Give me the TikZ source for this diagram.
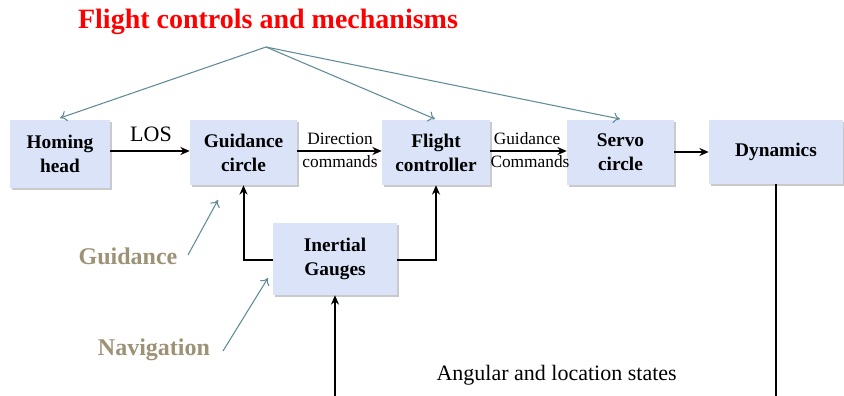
\documentclass[tikz,border=0pt]{standalone}
\usepackage{fontspec}
\setmainfont{Liberation Serif}
\usetikzlibrary{arrows.meta,shadows}
\definecolor{boxfill}{HTML}{DAE3F8}
\definecolor{ptr}{HTML}{5F8C98}
\definecolor{tan}{HTML}{9D9276}
\tikzset{
  box/.style={fill=boxfill, draw=none, align=center, font=\fontsize{14.5}{18}\selectfont\bfseries,
    drop shadow={shadow xshift=1.2pt, shadow yshift=-1.2pt, fill=black!35, opacity=0.6}},
  flow/.style={line width=1.5pt, -{Stealth[length=7pt,width=6pt]}},
  ptrarrow/.style={draw=ptr, line width=0.8pt, -{To[length=5pt,width=8pt]}},
  lbl/.style={font=\fontsize{13}{14}\selectfont, inner sep=1pt},
  side/.style={font=\fontsize{18}{20}\selectfont\bfseries, text=tan},
}
\begin{document}
\begin{tikzpicture}[x=0.75pt,y=-0.75pt]
\useasboundingbox (0,0) rectangle (844,396);
\clip (0,0) rectangle (844,396);
% title
\node[font=\fontsize{21}{24}\selectfont\bfseries, text=red] (title) at (268,22) {Flight controls and mechanisms};
\coordinate (apex) at (266,47);
% boxes
\node[box, minimum width=75pt, minimum height=51pt] (home) at (60,154) {Homing\\head};
\node[box, minimum width=80.25pt, minimum height=48.75pt] (guid) at (243.5,152.5) {Guidance\\circle};
\node[box, minimum width=81pt, minimum height=48.75pt] (flight) at (436,152.5) {Flight\\controller};
\node[box, minimum width=80.25pt, minimum height=48.75pt] (servo) at (620.5,152.5) {Servo\\circle};
\node[box, minimum width=100.5pt, minimum height=48pt] (dyn) at (776,152) {Dynamics};
\node[box, minimum width=93pt, minimum height=54pt] (inert) at (335,259) {Inertial\\Gauges};
% pointer arrows from title
\draw[ptrarrow] (apex) -- (60,118);
\draw[ptrarrow] (apex) -- (435,119);
\draw[ptrarrow] (apex) -- (620,119);
% main flow
\draw[flow] (home.east |- 0,151) -- (guid.west |- 0,151);
\node[lbl, font=\fontsize{16.5}{18}\selectfont] (los) at (151,134) {LOS};
\draw[flow] (guid.east |- 0,151) -- (flight.west |- 0,151);
\node[lbl] (dirA) at (340,139) {Direction};
\node[lbl] (dirB) at (340,162) {commands};
\draw[flow] (flight.east |- 0,151) -- (servo.west |- 0,151);
\node[lbl] (gcA) at (527,139) {Guidance};
\node[lbl] (gcB) at (530,162) {Commands};
\draw[flow] (servo.east |- 0,152) -- (dyn.west |- 0,152);
% inertial to guidance / flight
\draw[flow] (inert.west |- 0,260) -| (guid.south);
\draw[flow] (inert.east |- 0,260) -| (flight.south);
% feedback
\coordinate (fb) at (556,402);
\draw[flow] (dyn.south) |- (fb) -| (inert.south);
\node[lbl, font=\fontsize{16.5}{18}\selectfont, anchor=west] (ang) at (435,375) {Angular and location states};
% side labels
\node[side] (gd) at (128,256) {Guidance};
\node[side] (nav) at (154,350) {Navigation};
\draw[ptrarrow] (188,255) -- (218,200);
\draw[ptrarrow] (223,351) -- (268,278);
\end{tikzpicture}
\end{document}
